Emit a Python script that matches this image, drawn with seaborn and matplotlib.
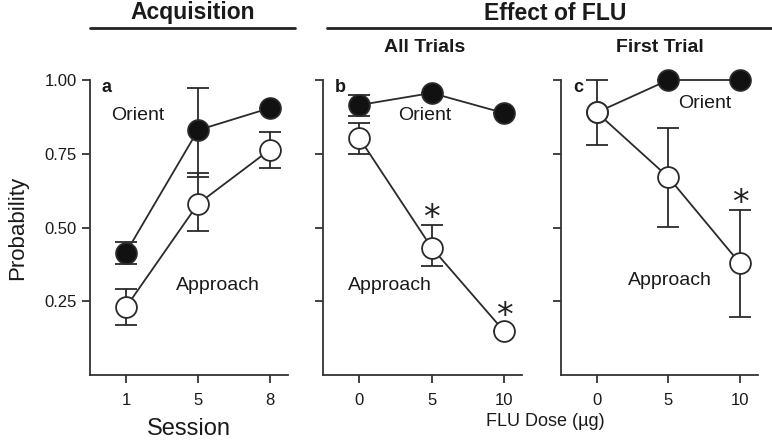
"""
Orienting vs approach behaviour: acquisition and effect of FLU dose.
Three panel line chart with asymmetric error bars, saved to out.png.
"""

import numpy as np
import pandas as pd
import matplotlib
matplotlib.use("Agg")
import matplotlib.pyplot as plt
from matplotlib.lines import Line2D
import seaborn as sns

# ---- data ----
sessions = ["1", "5", "8"]
doses = ["0", "5", "10"]

acq_orient = [0.415, 0.83, 0.905]
acq_orient_lo = [0.375, 0.67, 0.905]
acq_orient_hi = [0.45, 0.973, 0.905]
acq_approach = [0.23, 0.58, 0.764]
acq_approach_lo = [0.17, 0.487, 0.703]
acq_approach_hi = [0.29, 0.686, 0.824]

all_orient = [0.915, 0.956, 0.888]
all_orient_lo = [0.878, 0.956, 0.888]
all_orient_hi = [0.95, 0.956, 0.888]
all_approach = [0.804, 0.432, 0.149]
all_approach_lo = [0.75, 0.368, 0.149]
all_approach_hi = [0.855, 0.507, 0.149]

first_orient = [0.89, 1.0, 1.0]
first_orient_lo = [0.89, 1.0, 1.0]
first_orient_hi = [0.89, 1.0, 1.0]
first_approach = [0.89, 0.67, 0.378]
first_approach_lo = [0.78, 0.503, 0.196]
first_approach_hi = [1.0, 0.837, 0.56]

yticks = [0.25, 0.50, 0.75, 1.00]

sns.set_theme(style="ticks")
plt.rcParams["font.family"] = ["Liberation Sans", "DejaVu Sans"]
plt.rcParams["text.color"] = "#1a1a1a"
plt.rcParams["axes.labelcolor"] = "#1a1a1a"
plt.rcParams["axes.linewidth"] = 1.3
plt.rcParams["axes.edgecolor"] = "#333333"
plt.rcParams["xtick.color"] = "#333333"
plt.rcParams["ytick.color"] = "#333333"
plt.rcParams["xtick.labelcolor"] = "#1a1a1a"
plt.rcParams["ytick.labelcolor"] = "#1a1a1a"
plt.rcParams["xtick.major.width"] = 1.3
plt.rcParams["ytick.major.width"] = 1.3
plt.rcParams["xtick.major.size"] = 6
plt.rcParams["ytick.major.size"] = 6
plt.rcParams["xtick.major.pad"] = 7

LINE = "#2a2a2a"


def draw_series(ax, labels, mean, lo, hi, filled):
    """One series: error bars under a seaborn line with circle markers."""
    df = pd.DataFrame({"x": np.arange(len(labels)), "y": mean})
    yerr = [np.array(mean) - np.array(lo), np.array(hi) - np.array(mean)]
    ax.errorbar(df["x"], df["y"], yerr=yerr, fmt="none", ecolor=LINE,
                elinewidth=1.3, capsize=8, capthick=1.3, zorder=2, clip_on=False)
    sns.lineplot(data=df, x="x", y="y", ax=ax, color=LINE, linewidth=1.3,
                 marker="o", markersize=15,
                 markerfacecolor="#111111" if filled else "white",
                 markeredgecolor=LINE, markeredgewidth=1.3,
                 zorder=3, clip_on=False)


def style_axes(ax, labels, show_yticklabels):
    ax.set_xlim(-0.5, 2.25)
    ax.set_ylim(0, 1.0)
    ax.set_xticks(np.arange(len(labels)))
    ax.set_xticklabels(labels, fontsize=12)
    ax.set_yticks(yticks)
    if show_yticklabels:
        ax.set_yticklabels([f"{t:.2f}" for t in yticks], fontsize=12)
    else:
        ax.set_yticklabels([])
    ax.set_xlabel("")
    ax.set_ylabel("")
    sns.despine(ax=ax)


fig = plt.figure(figsize=(7.72, 4.40), dpi=100)

panels = [
    (90, 288, sessions, acq_orient, acq_orient_lo, acq_orient_hi,
     acq_approach, acq_approach_lo, acq_approach_hi),
    (323, 522, doses, all_orient, all_orient_lo, all_orient_hi,
     all_approach, all_approach_lo, all_approach_hi),
    (561, 758, doses, first_orient, first_orient_lo, first_orient_hi,
     first_approach, first_approach_lo, first_approach_hi),
]

axes = []
for i, (x0, x1, labels, om, olo, ohi, am, alo, ahi) in enumerate(panels):
    ax = fig.add_axes([x0 / 772, 65 / 440, (x1 - x0) / 772, 295 / 440])
    draw_series(ax, labels, om, olo, ohi, filled=True)
    draw_series(ax, labels, am, alo, ahi, filled=False)
    style_axes(ax, labels, show_yticklabels=(i == 0))
    axes.append(ax)

ax_a, ax_b, ax_c = axes

# panel letters
for ax, letter in zip(axes, ["a", "b", "c"]):
    ax.text(0.06, 0.975, letter, transform=ax.transAxes, fontsize=13,
            fontweight="bold", va="center", ha="left")

# series labels
ax_a.text(0.17, 0.88, "Orient", fontsize=14, ha="center", va="center")
ax_a.text(1.28, 0.305, "Approach", fontsize=14, ha="center", va="center")
ax_b.text(0.9, 0.88, "Orient", fontsize=14, ha="center", va="center")
ax_b.text(0.42, 0.305, "Approach", fontsize=14, ha="center", va="center")
ax_c.text(1.51, 0.922, "Orient", fontsize=14, ha="center", va="center")
ax_c.text(1.02, 0.322, "Approach", fontsize=14, ha="center", va="center")

# significance stars
for ax, x, y in [(ax_b, 1, 0.53), (ax_b, 2, 0.20), (ax_c, 2, 0.583)]:
    ax.text(x, y, "*", fontsize=24, ha="center", va="center",
            family=["DejaVu Sans"], color="#222222")

ax_a.set_ylabel("Probability", fontsize=16, labelpad=12)
ax_a.set_xlabel("Session", fontsize=17, labelpad=7)
fig.text(545 / 772, 1 - 421 / 440, "FLU Dose (µg)", fontsize=13,
         ha="center", va="center")

# group headers with underlines
fig.text(193 / 772, 1 - 13 / 440, "Acquisition", fontsize=16.5,
         fontweight="bold", ha="center", va="center")
fig.text(555 / 772, 1 - 13 / 440, "Effect of FLU", fontsize=16.5,
         fontweight="bold", ha="center", va="center")
fig.add_artist(Line2D([90 / 772, 295 / 772], [1 - 28 / 440] * 2,
                      color="#222222", linewidth=2))
fig.add_artist(Line2D([327 / 772, 1.0], [1 - 28 / 440] * 2,
                      color="#222222", linewidth=2))
fig.text(425 / 772, 1 - 47 / 440, "All Trials", fontsize=14,
         fontweight="bold", ha="center", va="center")
fig.text(660 / 772, 1 - 47 / 440, "First Trial", fontsize=14,
         fontweight="bold", ha="center", va="center")

fig.savefig("out.png", dpi=100)
plt.close(fig)
